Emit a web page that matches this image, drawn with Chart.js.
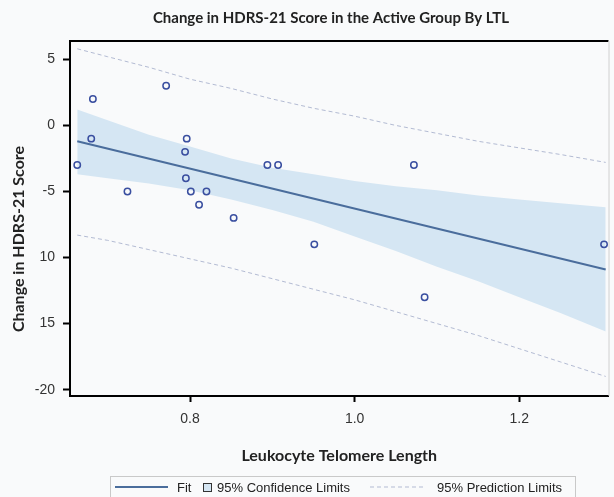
<!DOCTYPE html>
<html>
<head>
<meta charset="utf-8">
<script src="https://cdn.jsdelivr.net/npm/chart.js@4"></script>
<style>
  body { margin: 0; background: #f9fafb; }
  canvas { display: block; }
</style>
</head>
<body>
<canvas id="chart" width="614" height="497"></canvas>
<script>
// observations
var ltl = [0.663, 0.682, 0.680, 0.724, 0.771, 0.796, 0.794, 0.795, 0.801, 0.820, 0.811, 0.853, 0.894, 0.907, 0.951, 1.072, 1.085, 1.303];
var hdrsChange = [-3, 2, -1, -5, 3, -1, -2, -4, -5, -5, -6, -7, -3, -3, -9, -3, -13, -9];

// fitted line end points
var fitX = [0.663, 1.305];
var fitY = [-1.2, -10.9];

// confidence and prediction limits read along the x axis
var bandX = [0.663, 0.70, 0.75, 0.80, 0.85, 0.90, 0.95, 1.00, 1.05, 1.10, 1.15, 1.20, 1.25, 1.305];
var clUpper = [1.2, 0.4, -0.7, -1.6, -2.5, -3.2, -3.7, -4.2, -4.6, -4.9, -5.3, -5.6, -5.9, -6.2];
var clLower = [-3.7, -4.0, -4.4, -4.9, -5.6, -6.4, -7.3, -8.4, -9.5, -10.7, -11.8, -13.0, -14.2, -15.6];
var plUpper = [5.8, 5.2, 4.4, 3.5, 2.8, 2.0, 1.3, 0.7, 0.0, -0.6, -1.2, -1.7, -2.2, -2.8];
var plLower = [-8.3, -8.7, -9.4, -10.1, -10.8, -11.6, -12.4, -13.2, -14.1, -15.0, -15.9, -16.9, -17.9, -19.0];

// axis ticks as printed
var xTickValues = [0.8, 1.0, 1.2];
var xTickLabels = ["0.8", "1.0", "1.2"];
var yTickValues = [-20, -15, -10, -5, 0, 5];
var yTickLabels = ["-20", "15", "10", "-5", "0", "5"];

var title = "Change in HDRS-21 Score in the Active Group By LTL";
var xTitle = "Leukocyte Telomere Length";
var yTitle = "Change in HDRS-21 Score";

var fitColor = "#4a6d9c";
var bandColor = "#d5e6f3";
var predColor = "#b3bbd3";
var pointColor = "#3a4fa0";

function pairs(xs, ys) {
  return xs.map(function (x, i) { return { x: x, y: ys[i] }; });
}

var tickFont = { family: "'Liberation Sans Narrow', 'Liberation Sans', Arial, sans-serif", size: 14 };

var decorations = {
  id: "decorations",
  beforeDraw: function (chart) {
    var ctx = chart.ctx;
    ctx.save();
    ctx.fillStyle = "#f9fafb";
    ctx.fillRect(0, 0, chart.width, chart.height);
    ctx.restore();
  },
  afterDraw: function (chart) {
    var ctx = chart.ctx, a = chart.chartArea;
    ctx.save();
    // frame top and right
    ctx.strokeStyle = "#000";
    ctx.lineWidth = 2;
    ctx.beginPath();
    ctx.moveTo(a.left, a.top);
    ctx.lineTo(a.right, a.top);
    ctx.stroke();
    ctx.strokeStyle = "#d0d0d0";
    ctx.lineWidth = 1;
    ctx.beginPath();
    ctx.moveTo(a.right + 0.5, a.top);
    ctx.lineTo(a.right + 0.5, a.bottom);
    ctx.stroke();

    // titles
    ctx.fillStyle = "#222";
    ctx.textAlign = "center";
    ctx.textBaseline = "middle";
    ctx.font = "bold 15px Lato, 'Open Sans', sans-serif";
    ctx.fillText(title, 331, 18);
    ctx.font = "bold 16px Lato, 'Open Sans', sans-serif";
    ctx.fillText(xTitle, (a.left + a.right) / 2, 456);
    ctx.translate(19, 239);
    ctx.rotate(-Math.PI / 2);
    ctx.fillText(yTitle, 0, 0);
    ctx.setTransform(1, 0, 0, 1, 0, 0);

    // legend
    var ly = 487;
    ctx.strokeStyle = "#c9c9c9";
    ctx.lineWidth = 1;
    ctx.strokeRect(110.5, 476.5, 465, 24);
    ctx.strokeStyle = fitColor;
    ctx.lineWidth = 2;
    ctx.beginPath();
    ctx.moveTo(115, ly);
    ctx.lineTo(168, ly);
    ctx.stroke();
    ctx.fillStyle = bandColor;
    ctx.fillRect(203.5, 483.5, 8, 8);
    ctx.strokeStyle = "#333";
    ctx.lineWidth = 1;
    ctx.strokeRect(203.5, 483.5, 8, 8);
    ctx.strokeStyle = predColor;
    ctx.setLineDash([4, 3]);
    ctx.beginPath();
    ctx.moveTo(370, ly);
    ctx.lineTo(425, ly);
    ctx.stroke();
    ctx.setLineDash([]);
    ctx.fillStyle = "#222";
    ctx.textAlign = "left";
    ctx.font = "13px 'Liberation Sans', Arial, sans-serif";
    ctx.fillText("Fit", 177, ly + 1);
    ctx.fillText("95% Confidence Limits", 217, ly + 1);
    ctx.fillText("95% Prediction Limits", 437, ly + 1);
    ctx.restore();
  }
};

new Chart("chart", {
  data: {
    datasets: [
      {
        type: "scatter", label: "obs", data: pairs(ltl, hdrsChange), order: 0,
        pointRadius: 3.2, pointBorderWidth: 1.5, borderColor: pointColor,
        pointBackgroundColor: "rgba(0,0,0,0)", backgroundColor: "rgba(0,0,0,0)"
      },
      {
        type: "line", label: "Fit", data: pairs(fitX, fitY), order: 1,
        borderColor: fitColor, borderWidth: 2, pointRadius: 0, fill: false
      },
      {
        type: "line", label: "upper pl", data: pairs(bandX, plUpper), order: 2,
        borderColor: predColor, borderWidth: 1, borderDash: [4, 3], pointRadius: 0, fill: false
      },
      {
        type: "line", label: "lower pl", data: pairs(bandX, plLower), order: 3,
        borderColor: predColor, borderWidth: 1, borderDash: [4, 3], pointRadius: 0, fill: false
      },
      {
        type: "line", label: "upper cl", data: pairs(bandX, clUpper), order: 5,
        borderWidth: 0, pointRadius: 0, fill: "+1", backgroundColor: bandColor
      },
      {
        type: "line", label: "lower cl", data: pairs(bandX, clLower), order: 6,
        borderWidth: 0, pointRadius: 0, fill: false
      }
    ]
  },
  options: {
    responsive: false,
    animation: false,
    devicePixelRatio: 1,
    layout: { padding: { top: 41, right: 1, left: 0, bottom: 0 } },
    plugins: { legend: { display: false }, tooltip: { enabled: false }, title: { display: false } },
    scales: {
      x: {
        type: "linear", min: 0.6542, max: 1.3084,
        afterFit: function (s) { s.height = 101; },
        afterBuildTicks: function (s) { s.ticks = xTickValues.map(function (v) { return { value: v }; }); },
        ticks: {
          font: tickFont, color: "#333", padding: 9, maxRotation: 0,
          callback: function (v, i) { return xTickLabels[i]; }
        },
        grid: { drawOnChartArea: false, tickLength: 6, tickColor: "#000", tickWidth: 2 },
        border: { display: true, color: "#000", width: 2 }
      },
      y: {
        type: "linear", min: -20.48, max: 6.39,
        afterFit: function (s) { s.width = 70; },
        afterBuildTicks: function (s) { s.ticks = yTickValues.map(function (v) { return { value: v }; }); },
        ticks: {
          font: tickFont, color: "#333", padding: 8,
          callback: function (v, i) { return yTickLabels[i]; }
        },
        grid: { drawOnChartArea: false, tickLength: 7, tickColor: "#000", tickWidth: 2 },
        border: { display: true, color: "#000", width: 2 }
      }
    }
  },
  plugins: [decorations]
});
</script>
</body>
</html>
